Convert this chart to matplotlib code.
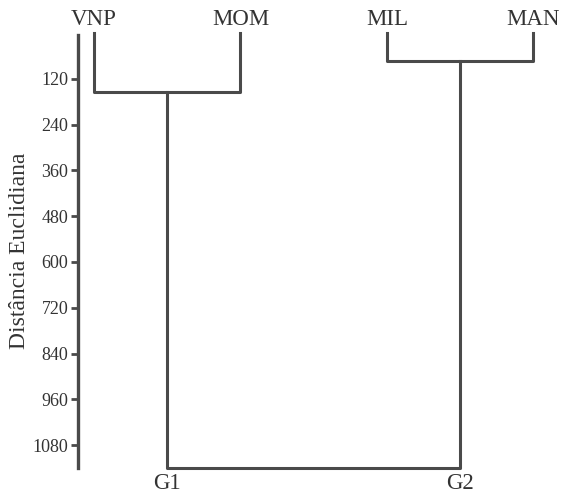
import matplotlib.pyplot as plt

# leaves and merge heights (Euclidean distance)
leaves = ['VNP', 'MOM', 'MIL', 'MAN']
groups = ['G1', 'G2']
g1_height = 154
g2_height = 73
root_height = 1140
yticks = [120, 240, 360, 480, 600, 720, 840, 960, 1080]

line_col = '#4a4a4a'
txt_col = '#333333'
plt.rcParams['font.family'] = ['Liberation Serif', 'DejaVu Serif']

fig = plt.figure(figsize=(5.61, 4.95), dpi=100)
ax = fig.add_axes([78 / 561, 1 - 468 / 495, 467 / 561, 435 / 495])

pos = [1, 2, 3, 4]
g1_x = (pos[0] + pos[1]) / 2
g2_x = (pos[2] + pos[3]) / 2
kw = dict(color=line_col, lw=2.2, solid_capstyle='projecting', clip_on=False)

# G1 cluster
ax.plot([pos[0], pos[0], pos[1], pos[1]], [0, g1_height, g1_height, 0], **kw)
# G2 cluster
ax.plot([pos[2], pos[2], pos[3], pos[3]], [0, g2_height, g2_height, 0], **kw)
# root
ax.plot([g1_x, g1_x, g2_x, g2_x], [g1_height, root_height, root_height, g2_height], **kw)

ax.set_xlim(0.89, 4.08)
ax.set_ylim(root_height, 0)

for x, lab in zip(pos, leaves):
    ax.text(x, -8, lab, ha='center', va='bottom', fontsize=16.5, color=txt_col)
for x, lab in zip([g1_x, g2_x], groups):
    ax.text(x, root_height + 14, lab, ha='center', va='top', fontsize=16.5, color=txt_col)

ax.set_yticks(yticks)
ax.set_yticklabels([str(t) for t in yticks], fontsize=13, color=txt_col)
ax.tick_params(axis='y', length=5, width=2, color=line_col, pad=2)
ax.set_xticks([])
ax.set_ylabel('Distância Euclidiana', fontsize=17, color=txt_col, labelpad=2)

for s in ['top', 'right', 'bottom']:
    ax.spines[s].set_visible(False)
ax.spines['left'].set_linewidth(2.4)
ax.spines['left'].set_color(line_col)
ax.spines['left'].set_bounds(5, root_height)

fig.savefig('out.png', dpi=100)
